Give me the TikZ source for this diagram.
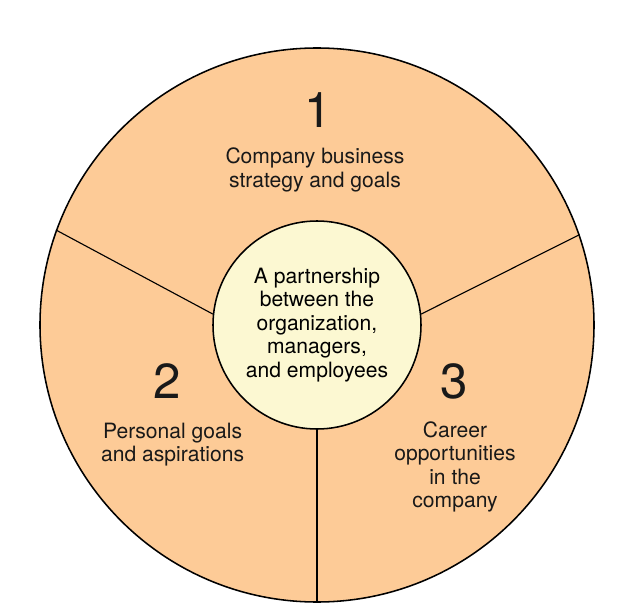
\documentclass[tikz,border=0pt]{standalone}
\usepackage{fontspec}
\setmainfont{TeX Gyre Heros}
\definecolor{peach}{RGB}{253,203,151}
\definecolor{cream}{RGB}{252,248,210}
\begin{document}
\begin{tikzpicture}[font=\fontsize{15}{16.7}\selectfont,
  ring/.style={circle, draw=black, line width=1.1pt, fill=peach,
               minimum size=13.85cm, inner sep=0pt},
  core/.style={circle, draw=black, line width=1.1pt, fill=cream,
               minimum size=5.2cm, inner sep=0pt, align=center},
  num/.style={font=\fontsize{35}{42}\selectfont, text=black!90},
  lbl/.style={align=center, text=black!90},
  split/.style={draw=black, line width=0.8pt}
]
\useasboundingbox (-7.925,-7.175) rectangle (8.075,8.125);
\node[ring] (rim) at (0,0) {};
\node[core] (hub) at (0,0) {A partnership\\between the\\organization,\\managers,\\and employees};
\draw[split] (hub.174) -- (rim.160.6);
\draw[split] (hub.6.5) -- (rim.19.4);
\draw[split] (hub.south) -- (rim.south);
\node[num] (n1) at (0.025, 5.375) {1};
\node[lbl] (t1) at (-0.05, 3.875) {Company business\\strategy and goals};
\node[num] (n2) at (-3.74, -1.41) {2};
\node[lbl] (t2) at (-3.61, -2.99) {Personal goals\\and aspirations};
\node[num] (n3) at (3.44, -1.41) {3};
\node[lbl] (t3) at (3.45, -3.55) {Career\\opportunities\\in the\\company};
\end{tikzpicture}
\end{document}
